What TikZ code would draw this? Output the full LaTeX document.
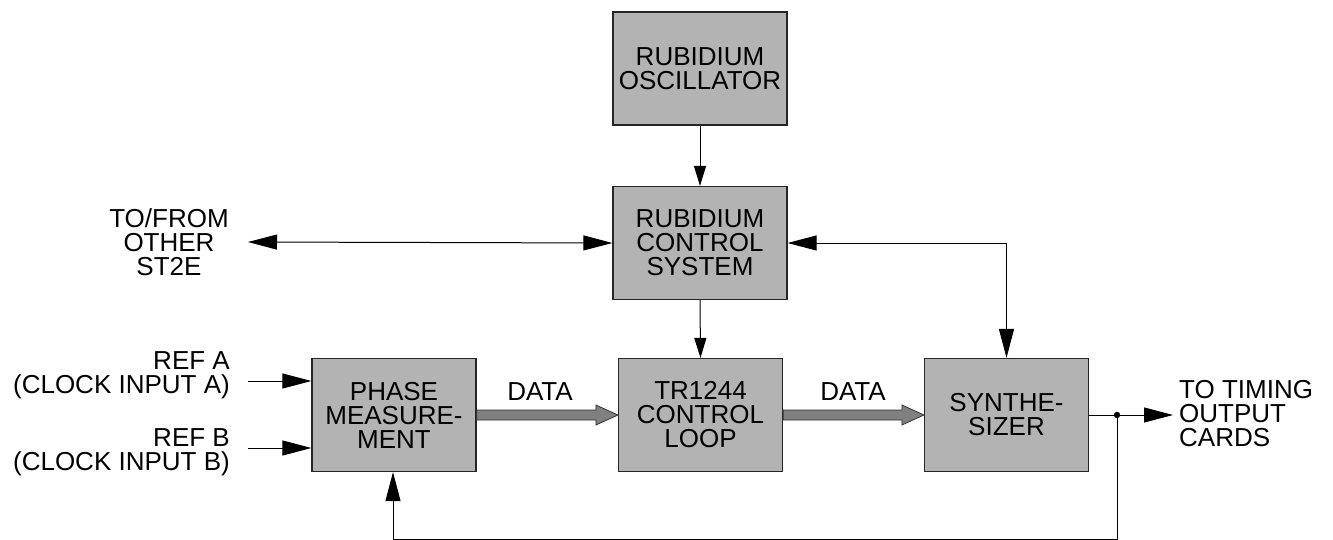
\documentclass[tikz,border=0pt]{standalone}
\usepackage{fontspec}
\setmainfont{Liberation Sans}
\usetikzlibrary{arrows.meta,calc}
\definecolor{boxgray}{HTML}{B3B3B3}
\definecolor{datagray}{HTML}{808080}
\begin{document}
\begin{tikzpicture}[x=1pt,y=-1pt,
  every node/.style={font=\fontsize{26}{24}\selectfont, inner sep=0pt},
  block/.style={draw=black!85, line width=1.2pt, fill=boxgray, align=center,
                minimum width=164pt, minimum height=113pt},
  wideblock/.style={block, minimum width=174pt},
  label/.style={align=center},
  wire/.style={line width=1pt},
  bigtip/.tip={Triangle[length=29pt,width=15pt]},
  smalltip/.tip={Triangle[length=20pt,width=12pt]},
  dataarrow/.style={fill=datagray, draw=black!80, line width=0.8pt}
]
\useasboundingbox (0,0) rectangle (1333,540);

% functional blocks
\node[wideblock] (osc)   at (700,68.5)  {RUBIDIUM\\OSCILLATOR};
\node[wideblock] (ctrl)  at (700,243)   {RUBIDIUM\\CONTROL\\SYSTEM};
\node[block]     (phase) at (394,415)   {PHASE\\MEASURE-\\MENT};
\node[block]     (loop)  at (700.5,415) {TR1244\\CONTROL\\LOOP};
\node[block]     (synth) at (1006.5,415){SYNTHE-\\SIZER};

% external labels
\node[label] (tofrom) at (169,242) {TO/FROM\\OTHER\\ST2E};
\node[align=right, anchor=east] (refa) at (230,375) {REF A\\(CLOCK INPUT A)};
\node[align=right, anchor=east] (refb) at (230,452) {REF B\\(CLOCK INPUT B)};
\node[align=left, anchor=west] (timing) at (1179,414) {TO TIMING\\OUTPUT\\CARDS};
\node (data1) at (540,392) {DATA};
\node (data2) at (853,392) {DATA};

% auxiliary points
\coordinate (ext)  at (248,242);
\coordinate (ina)  at (248,381);
\coordinate (inb)  at (248,448);
\coordinate (junc) at (1117,415);
\coordinate (out)  at (1173,415);
\coordinate (fbr)  at (1117,539);
\coordinate (fbl)  at (393,539);

% signal connections
\draw[wire, -smalltip] (osc.south) -- (ctrl.north);
\draw[wire, -smalltip] (ctrl.south) -- (loop.north);
\draw[wire, bigtip-bigtip] (ext) -- (ctrl.west);
\draw[wire, bigtip-bigtip] (ctrl.east) -| (synth.north);
\draw[wire, -bigtip] (ina) -- (ina -| phase.west);
\draw[wire, -bigtip] (inb) -- (inb -| phase.west);
\draw[wire] (synth.east) -- (junc);
\draw[wire, -bigtip] (junc) -- (out);
\draw[wire, -bigtip] (junc) -- (fbr) -- (fbl) -- (fbl |- phase.south);
\fill (junc) circle (3.2pt);

% data buses
\filldraw[dataarrow]
  ($(phase.east)+(0,-5)$) -- ($(loop.west)+(-22,-5)$) -- ($(loop.west)+(-22,-10)$)
  -- (loop.west) -- ($(loop.west)+(-22,10)$) -- ($(loop.west)+(-22,5)$)
  -- ($(phase.east)+(0,5)$) -- cycle;
\filldraw[dataarrow]
  ($(loop.east)+(0,-5)$) -- ($(synth.west)+(-22,-5)$) -- ($(synth.west)+(-22,-10)$)
  -- (synth.west) -- ($(synth.west)+(-22,10)$) -- ($(synth.west)+(-22,5)$)
  -- ($(loop.east)+(0,5)$) -- cycle;
\end{tikzpicture}
\end{document}
